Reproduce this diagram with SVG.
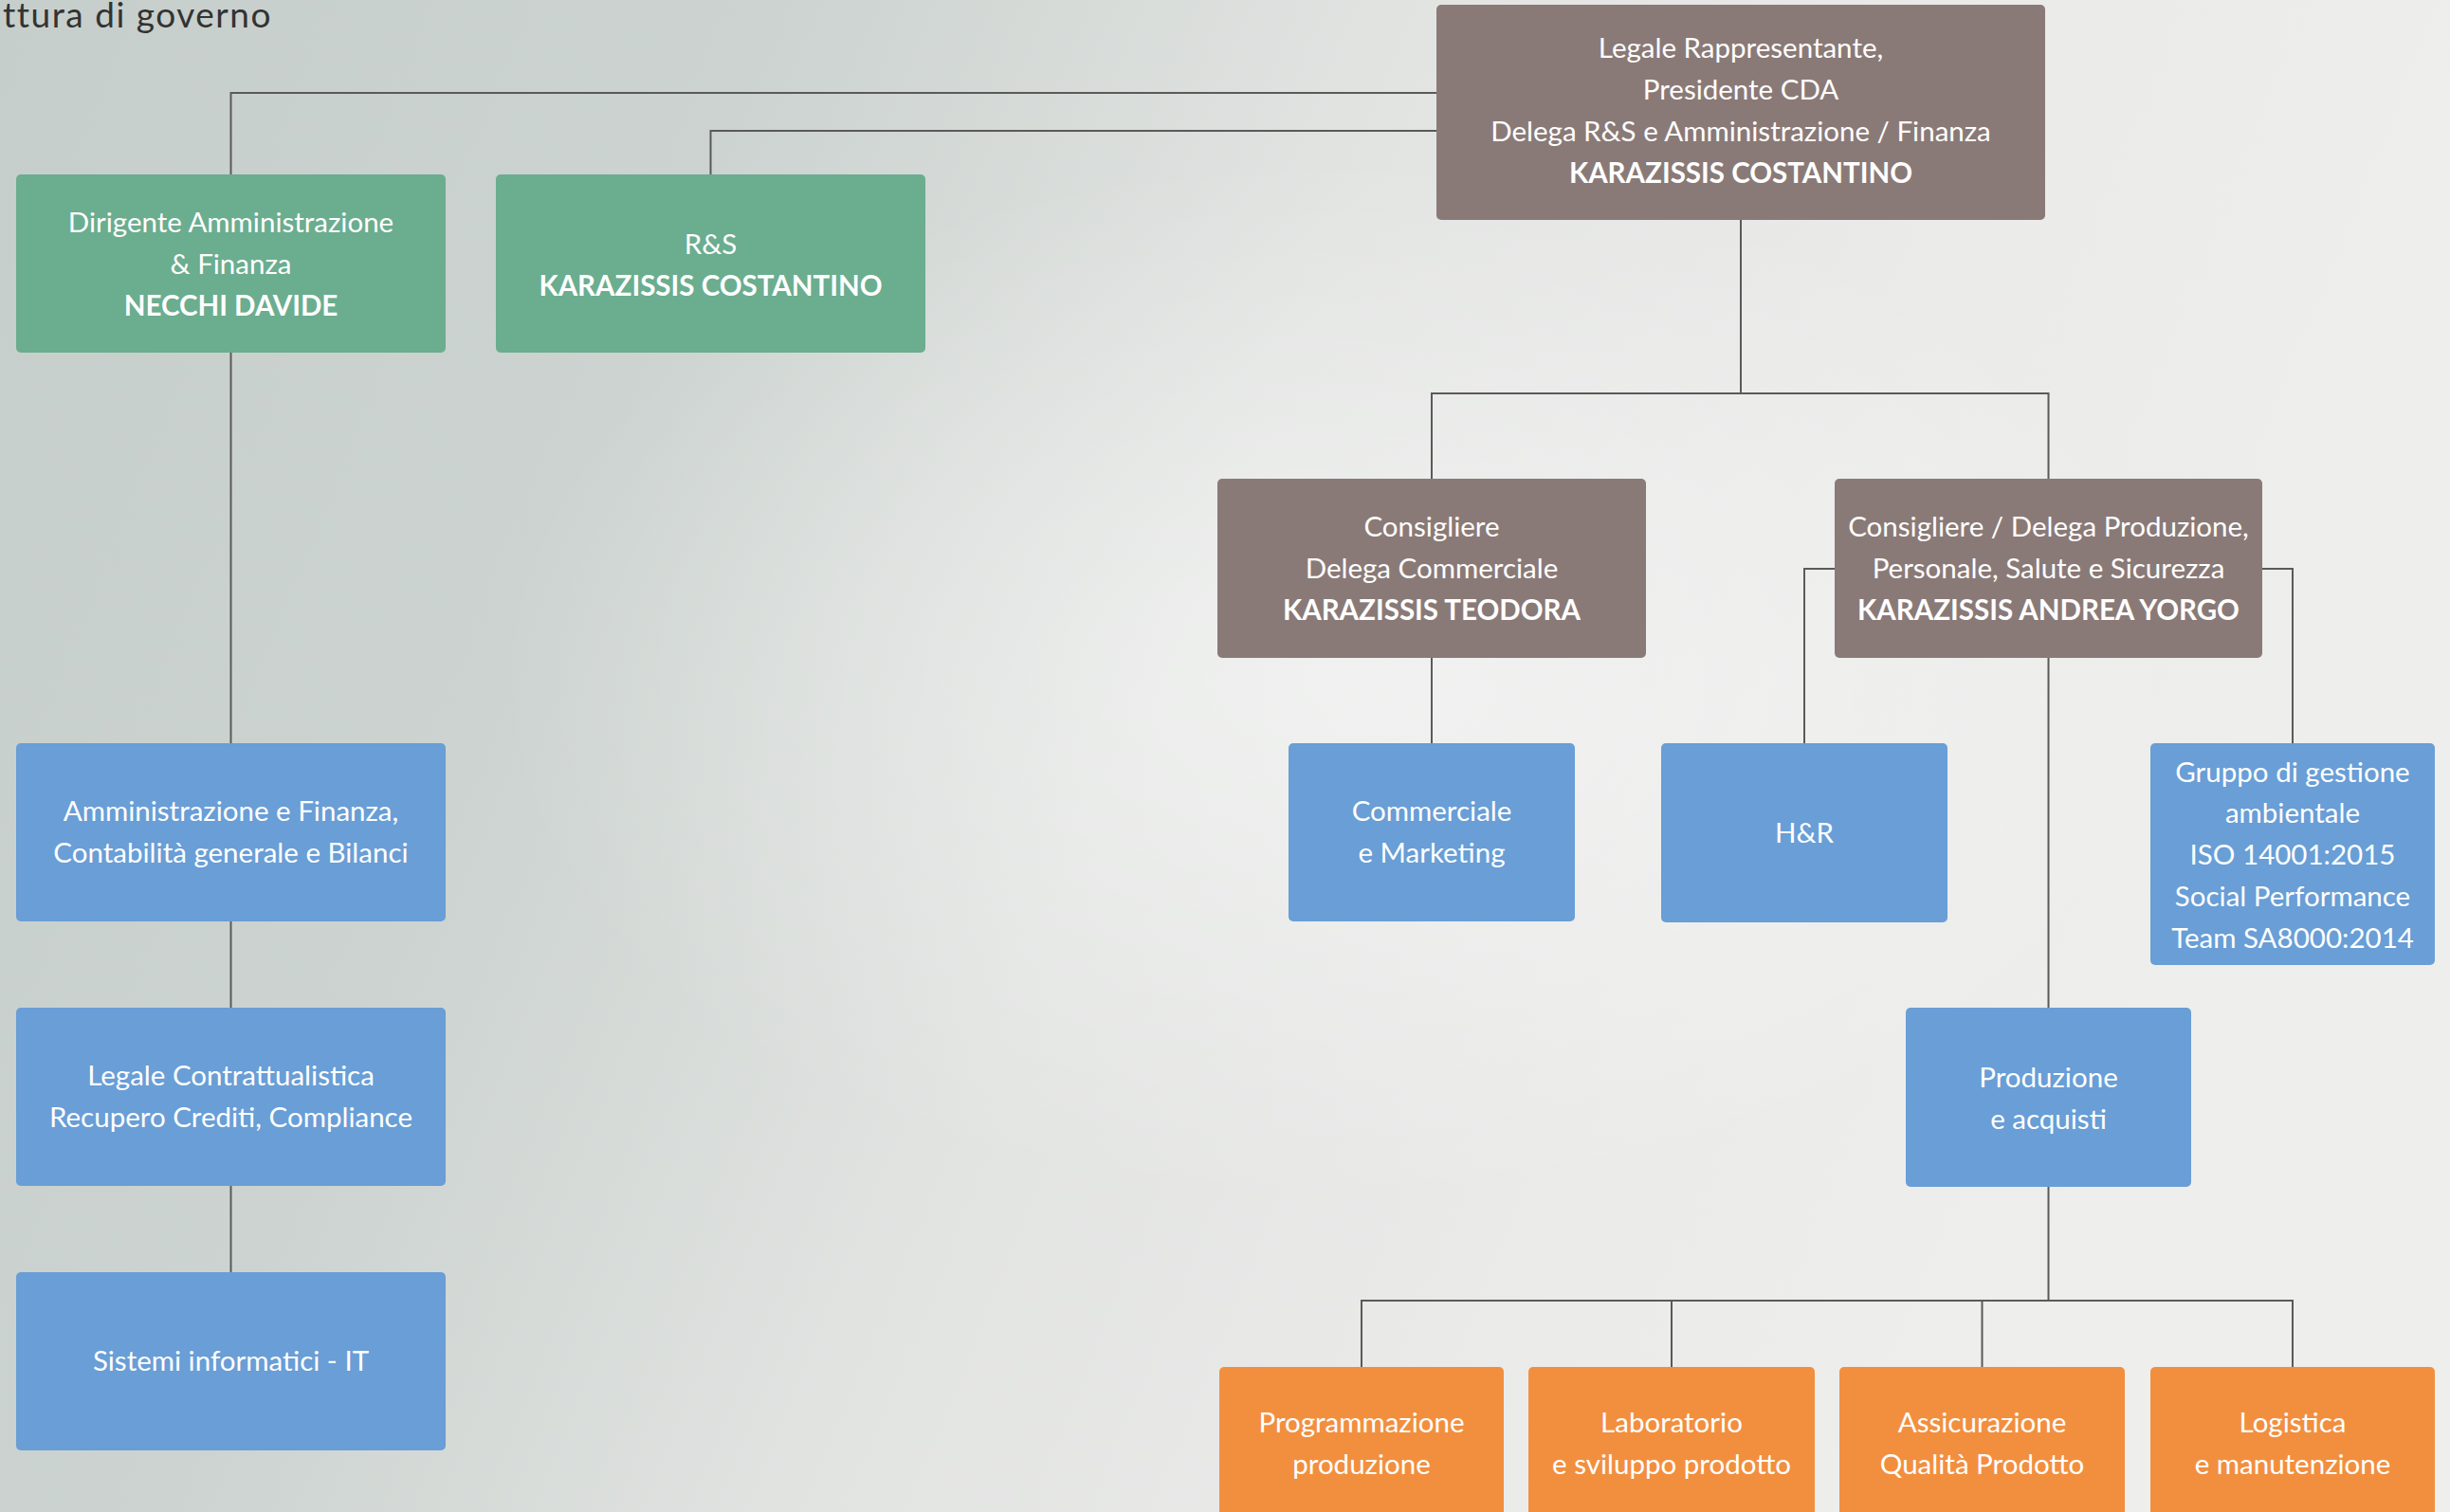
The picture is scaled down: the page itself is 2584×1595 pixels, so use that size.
<svg xmlns="http://www.w3.org/2000/svg" width="2584" height="1595" viewBox="0 0 2584 1595">
<defs>
<linearGradient id="bg" x1="0" y1="0" x2="1" y2="0.25">
<stop offset="0" stop-color="#c6cecb"/>
<stop offset="0.3" stop-color="#ccd3d0"/>
<stop offset="0.55" stop-color="#e2e4e2"/>
<stop offset="0.8" stop-color="#ebebea"/>
<stop offset="1" stop-color="#eeeeed"/>
</linearGradient>
<radialGradient id="glow" cx="0.55" cy="0.45" r="0.35">
<stop offset="0" stop-color="#ffffff" stop-opacity="0.45"/>
<stop offset="1" stop-color="#ffffff" stop-opacity="0"/>
</radialGradient>
<style>
.t{font-family:Lato,"Open Sans","Liberation Sans",sans-serif;font-size:29.5px;fill:#ffffff;text-anchor:middle}
.b{font-weight:bold}
.green{fill:#6bad8f}
.brown{fill:#8a7a77}
.blue{fill:#699ed6}
.orange{fill:#f28f3f}
.ln{fill:none;stroke:#5a5a5a;stroke-width:2}
</style>
</defs>
<rect x="0" y="0" width="2584" height="1595" fill="url(#bg)"/>
<rect x="0" y="0" width="2584" height="1595" fill="url(#glow)"/>
<text x="3" y="29" style="font-family:Lato,'Open Sans','Liberation Sans',sans-serif;font-size:37px;fill:#333333;letter-spacing:1.5px">ttura di governo</text>

<g id="connectors">
<path class="ln" d="M1515 98 H243.5 V184"/>
<path class="ln" d="M1515 138 H749.5 V184"/>
<path class="ln" d="M243.5 372 V784"/>
<path class="ln" d="M243.5 972 V1063"/>
<path class="ln" d="M243.5 1251 V1342"/>
<path class="ln" d="M1836 232 V415"/>
<path class="ln" d="M1510 505 V415 H2160.5 V505"/>
<path class="ln" d="M1510 694 V784"/>
<path class="ln" d="M1935 600 H1903 V784"/>
<path class="ln" d="M2386 600 H2418 V784"/>
<path class="ln" d="M2160.5 694 V1063"/>
<path class="ln" d="M2160.5 1252 V1372"/>
<path class="ln" d="M1436 1442 V1372 H2418 V1442"/>
<path class="ln" d="M1763 1372 V1442"/>
<path class="ln" d="M2090.5 1372 V1442"/>
</g>

<g id="n-presidente">
<rect class="brown" x="1515" y="5" width="642" height="227" rx="5"/>
<text class="t" x="1836" y="61">Legale Rappresentante,</text>
<text class="t" x="1836" y="105">Presidente CDA</text>
<text class="t" x="1836" y="149">Delega R&amp;S e Amministrazione / Finanza</text>
<text class="t b" x="1836" y="193">KARAZISSIS COSTANTINO</text>
</g>

<g id="n-dirigente">
<rect class="green" x="17" y="184" width="453" height="188" rx="5"/>
<text class="t" x="243.5" y="245">Dirigente Amministrazione</text>
<text class="t" x="243.5" y="289">&amp; Finanza</text>
<text class="t b" x="243.5" y="333">NECCHI DAVIDE</text>
</g>

<g id="n-rs">
<rect class="green" x="523" y="184" width="453" height="188" rx="5"/>
<text class="t" x="749.5" y="268">R&amp;S</text>
<text class="t b" x="749.5" y="312">KARAZISSIS COSTANTINO</text>
</g>

<g id="n-teodora">
<rect class="brown" x="1284" y="505" width="452" height="189" rx="5"/>
<text class="t" x="1510" y="566">Consigliere</text>
<text class="t" x="1510" y="610">Delega Commerciale</text>
<text class="t b" x="1510" y="654">KARAZISSIS TEODORA</text>
</g>

<g id="n-andrea">
<rect class="brown" x="1935" y="505" width="451" height="189" rx="5"/>
<text class="t" x="2160.5" y="566">Consigliere / Delega Produzione,</text>
<text class="t" x="2160.5" y="610">Personale, Salute e Sicurezza</text>
<text class="t b" x="2160.5" y="654">KARAZISSIS ANDREA YORGO</text>
</g>

<g id="n-amministrazione">
<rect class="blue" x="17" y="784" width="453" height="188" rx="5"/>
<text class="t" x="243.5" y="866">Amministrazione e Finanza,</text>
<text class="t" x="243.5" y="910">Contabilità generale e Bilanci</text>
</g>

<g id="n-legale">
<rect class="blue" x="17" y="1063" width="453" height="188" rx="5"/>
<text class="t" x="243.5" y="1145">Legale Contrattualistica</text>
<text class="t" x="243.5" y="1189">Recupero Crediti, Compliance</text>
</g>

<g id="n-it">
<rect class="blue" x="17" y="1342" width="453" height="188" rx="5"/>
<text class="t" x="243.5" y="1446">Sistemi informatici - IT</text>
</g>

<g id="n-commerciale">
<rect class="blue" x="1359" y="784" width="302" height="188" rx="5"/>
<text class="t" x="1510" y="866">Commerciale</text>
<text class="t" x="1510" y="910">e Marketing</text>
</g>

<g id="n-hr">
<rect class="blue" x="1752" y="784" width="302" height="189" rx="5"/>
<text class="t" x="1903" y="889">H&amp;R</text>
</g>

<g id="n-gruppo">
<rect class="blue" x="2268" y="784" width="300" height="234" rx="5"/>
<text class="t" x="2418" y="825">Gruppo di gestione</text>
<text class="t" x="2418" y="868">ambientale</text>
<text class="t" x="2418" y="912">ISO 14001:2015</text>
<text class="t" x="2418" y="956">Social Performance</text>
<text class="t" x="2418" y="1000">Team SA8000:2014</text>
</g>

<g id="n-produzione">
<rect class="blue" x="2010" y="1063" width="301" height="189" rx="5"/>
<text class="t" x="2160.5" y="1147">Produzione</text>
<text class="t" x="2160.5" y="1191">e acquisti</text>
</g>

<g id="n-programmazione">
<rect class="orange" x="1286" y="1442" width="300" height="200" rx="5"/>
<text class="t" x="1436" y="1511">Programmazione</text>
<text class="t" x="1436" y="1555">produzione</text>
</g>

<g id="n-laboratorio">
<rect class="orange" x="1612" y="1442" width="302" height="200" rx="5"/>
<text class="t" x="1763" y="1511">Laboratorio</text>
<text class="t" x="1763" y="1555">e sviluppo prodotto</text>
</g>

<g id="n-assicurazione">
<rect class="orange" x="1940" y="1442" width="301" height="200" rx="5"/>
<text class="t" x="2090.5" y="1511">Assicurazione</text>
<text class="t" x="2090.5" y="1555">Qualità Prodotto</text>
</g>

<g id="n-logistica">
<rect class="orange" x="2268" y="1442" width="300" height="200" rx="5"/>
<text class="t" x="2418" y="1511">Logistica</text>
<text class="t" x="2418" y="1555">e manutenzione</text>
</g>
</svg>
